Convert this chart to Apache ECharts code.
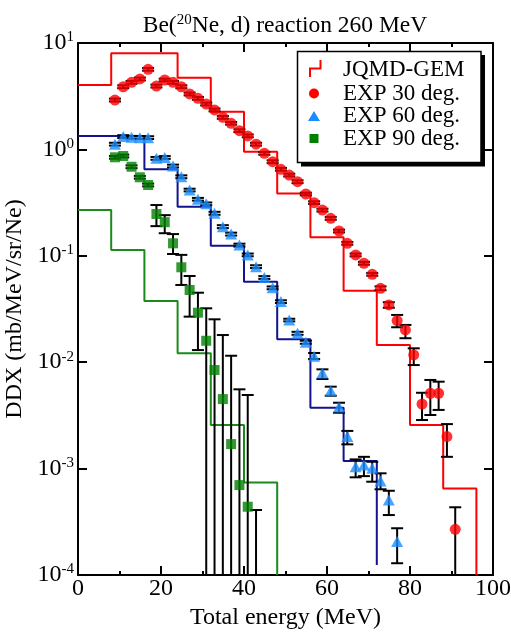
<!DOCTYPE html>
<html>
<head>
<meta charset="utf-8">
<script src="https://cdn.jsdelivr.net/npm/echarts@6/dist/echarts.min.js"></script>
<style>
  html, body { margin: 0; padding: 0; background: #fff; }
  #chart { width: 511px; height: 636px; }
</style>
</head>
<body>
<div id="chart"></div>
<script>
// ---- JQMD-GEM histograms (8 MeV bins starting at 0 MeV) ----
const binEdges = [0, 8, 16, 24, 32, 40, 48, 56, 64, 72, 80, 88, 96];
const jqmd30 = [4.03, 8.0, 8.0, 4.72, 2.26, 0.95, 0.386, 0.149, 0.047, 0.0145, 0.00257, 0.00065];
const jqmd30End = 0.0001;
const jqmd60 = [1.34, 1.34, 0.65, 0.289, 0.1245, 0.0571, 0.0164, 0.00373, 0.00118];
const jqmd60End = 0.000124;
const jqmd90 = [0.269, 0.1135, 0.0376, 0.01214, 0.00257, 0.00074];
const jqmd90End = 0.0001;

// ---- Measured DDX, 30 degrees ----
const exp30Energy = [8.9, 10.9, 12.9, 14.9, 16.9, 18.9, 20.9, 22.9, 24.9, 26.9, 28.9, 30.9, 32.9, 34.9,
  36.9, 38.9, 40.9, 42.9, 44.9, 46.9, 48.9, 50.9, 52.9, 54.9, 56.9, 58.9, 60.9, 62.9, 64.9, 66.9,
  68.9, 70.9, 72.9, 74.9, 76.9, 78.9, 80.9, 82.9, 84.9, 86.9, 88.9, 90.9];
const exp30Ddx = [2.91, 3.88, 4.27, 4.59, 5.66, 3.94, 4.49, 4.27, 3.88, 3.32, 3.02, 2.67, 2.35, 2.00,
  1.76, 1.50, 1.34, 1.12, 0.918, 0.766, 0.650, 0.574, 0.497, 0.381, 0.316, 0.269, 0.225, 0.171, 0.131, 0.102,
  0.0851, 0.0670, 0.0495, 0.0345, 0.0246, 0.0201, 0.0117, 0.00404, 0.0051, 0.0051, 0.0020, 0.000269];
const exp30Low = [2.82, 3.76, 4.14, 4.45, 5.49, 3.82, 4.36, 4.14, 3.76, 3.22, 2.93, 2.59, 2.28, 1.94,
  1.71, 1.455, 1.30, 1.086, 0.890, 0.743, 0.631, 0.557, 0.482, 0.370, 0.307, 0.261, 0.218, 0.166, 0.127, 0.0989,
  0.0825, 0.0650, 0.0475, 0.0325, 0.0213, 0.0168, 0.0094, 0.00286, 0.00319, 0.00356, 0.00129, 0];
const exp30High = [3.00, 4.00, 4.40, 4.73, 5.83, 4.06, 4.62, 4.40, 4.00, 3.42, 3.11, 2.75, 2.42, 2.06,
  1.81, 1.545, 1.38, 1.154, 0.946, 0.789, 0.670, 0.591, 0.512, 0.392, 0.325, 0.277, 0.232, 0.176, 0.135, 0.105,
  0.0877, 0.0690, 0.0516, 0.0366, 0.0278, 0.0224, 0.0135, 0.00516, 0.00681, 0.00656, 0.00262, 0.000433];

// ---- Measured DDX, 60 degrees ----
const exp60Energy = [8.9, 10.9, 12.9, 14.9, 16.9, 18.9, 20.9, 22.9, 24.9, 26.9, 28.9, 30.9, 32.9, 34.9,
  36.9, 38.9, 40.9, 42.9, 44.9, 46.9, 48.9, 50.9, 52.9, 54.9, 56.9, 58.9, 60.9, 62.9, 64.9, 66.9,
  68.9, 70.9, 72.9, 74.9, 76.9];
const exp60Ddx = [1.12, 1.32, 1.30, 1.29, 1.29, 0.824, 0.840, 0.698, 0.553, 0.415, 0.340, 0.308, 0.251, 0.188,
  0.160, 0.126, 0.102, 0.0791, 0.0625, 0.0500, 0.0371, 0.0249, 0.0187, 0.0154, 0.0114, 0.0079, 0.0054, 0.0038,
  0.0020, 0.00104, 0.00108, 0.00101, 0.000764, 0.000507, 0.000206];
const exp60Low = [1.086, 1.28, 1.261, 1.251, 1.251, 0.799, 0.815, 0.677, 0.536, 0.403, 0.330, 0.299, 0.243, 0.182,
  0.155, 0.122, 0.099, 0.0767, 0.0606, 0.0485, 0.0360, 0.0242, 0.0181, 0.0149, 0.0107, 0.00695, 0.00484, 0.00335,
  0.00169, 0.000828, 0.00085, 0.000753, 0.000639, 0.000366, 0.000129];
const exp60High = [1.154, 1.36, 1.339, 1.329, 1.329, 0.849, 0.865, 0.719, 0.570, 0.427, 0.350, 0.317, 0.259, 0.194,
  0.165, 0.130, 0.105, 0.0815, 0.0644, 0.0515, 0.0382, 0.0256, 0.0193, 0.0159, 0.0122, 0.00857, 0.00589, 0.00416,
  0.00226, 0.00122, 0.00129, 0.00116, 0.000903, 0.000619, 0.000275];

// ---- Measured DDX, 90 degrees (last point lies below the plotted range) ----
const exp90Energy = [8.9, 10.9, 12.9, 14.9, 16.9, 18.9, 20.9, 22.9, 24.9, 26.9, 28.9, 30.9, 32.9, 34.9,
  36.9, 38.9, 40.9, 42.9];
const exp90Ddx = [0.843, 0.867, 0.687, 0.547, 0.463, 0.247, 0.207, 0.131, 0.078, 0.0477, 0.0292, 0.0159,
  0.00845, 0.0045, 0.0017, 0.0007, 0.000438, null];
const exp90Low = [0.818, 0.841, 0.666, 0.531, 0.449, 0.190, 0.163, 0.104, 0.0532, 0.0268, 0.0130, 0,
  0, 0, 0, 0, 0, 0];
const exp90High = [0.868, 0.893, 0.708, 0.563, 0.477, 0.300, 0.241, 0.160, 0.102, 0.0646, 0.0450, 0.0321,
  0.0253, 0.0180, 0.0115, 0.00556, 0.00492, 0.000408];

// ---- Axis settings ----
const xTicks = [0, 20, 40, 60, 80, 100];
const yMin = 1e-4, yMax = 10;

const FONT = 'Liberation Serif';
const INK = '#000';
const RED = '#ff0000';
const NAVY = '#13138c';
const GREEN_LINE = '#1a8a1a';
const SKY = '#1a8cff';
const GREEN = '#007f00';

function stepData(edges, values, endValue) {
  const pts = values.map((v, i) => [edges[i], v]);
  pts.push([edges[values.length], endValue]);
  return pts;
}
function pointData(xs, ys) {
  const out = [];
  xs.forEach((x, i) => { if (ys[i] != null) out.push([x, ys[i]]); });
  return out;
}
function barData(xs, lo, hi) {
  return xs.map((x, i) => [x, lo[i], hi[i]]);
}
function renderErrorBar(params, api) {
  const x = api.value(0);
  const lo = api.value(1);
  const hi = api.value(2);
  const clipped = !(lo > yMin);
  const pHi = api.coord([x, hi]);
  const pLo = api.coord([x, clipped ? yMin : lo]);
  const half = 6;
  const style = { stroke: '#000', lineWidth: 2, fill: null };
  const children = [
    { type: 'line', shape: { x1: pHi[0], y1: pHi[1], x2: pLo[0], y2: pLo[1] }, style },
    { type: 'line', shape: { x1: pHi[0] - half, y1: pHi[1], x2: pHi[0] + half, y2: pHi[1] }, style }
  ];
  if (!clipped) {
    children.push({ type: 'line', shape: { x1: pLo[0] - half, y1: pLo[1], x2: pLo[0] + half, y2: pLo[1] }, style });
  }
  return { type: 'group', children };
}

const chart = echarts.init(document.getElementById('chart'), null, { renderer: 'canvas' });

const axisLine = { show: true, onZero: false, lineStyle: { color: '#000', width: 2 } };
const xTickCfg = { show: true, inside: true, length: 9, lineStyle: { color: '#000', width: 2 } };
const xMinor = { show: true, splitNumber: 2, length: 4, lineStyle: { color: '#000', width: 2 } };

const legendX = 297.5, legendY = 51.5, legendW = 183.5, legendH = 111;
const legendRows = [70, 93.5, 116, 138.5];
const legendText = ['JQMD-GEM', 'EXP 30 deg.', 'EXP 60 deg.', 'EXP 90 deg.'];

chart.setOption({
  animation: false,
  backgroundColor: '#fff',
  grid: { left: 78, right: 18, top: 43, bottom: 61, containLabel: false, outerBoundsMode: 'none' },
  xAxis: [
    {
      type: 'value', min: xTicks[0], max: xTicks[xTicks.length - 1], interval: 20, position: 'bottom',
      axisLine, axisTick: xTickCfg, minorTick: xMinor, splitLine: { show: false }, minorSplitLine: { show: false },
      axisLabel: { fontFamily: FONT, fontSize: 24, color: INK, margin: 2 },
      name: 'Total energy (MeV)', nameLocation: 'middle', nameGap: 25,
      nameTextStyle: { fontFamily: FONT, fontSize: 24, color: INK }
    },
    {
      type: 'value', min: xTicks[0], max: xTicks[xTicks.length - 1], interval: 20, position: 'top',
      axisLine, axisTick: xTickCfg, minorTick: xMinor, splitLine: { show: false },
      axisLabel: { show: false }
    }
  ],
  yAxis: [
    {
      type: 'log', logBase: 10, min: yMin, max: yMax, position: 'left',
      axisLine, axisTick: { show: true, inside: true, length: 9, lineStyle: { color: '#000', width: 2 } },
      splitLine: { show: false },
      axisLabel: {
        margin: 4,
        formatter: v => '{b|10}{s|' + Math.round(Math.log10(v)) + '}',
        rich: {
          b: { fontFamily: FONT, fontSize: 24, lineHeight: 26, color: INK },
          s: { fontFamily: FONT, fontSize: 15, lineHeight: 16, verticalAlign: 'top', color: INK }
        }
      },
      name: 'DDX (mb/MeV/sr/Ne)', nameLocation: 'middle', nameRotate: 90, nameGap: 37,
      nameTextStyle: { fontFamily: FONT, fontSize: 24, color: INK }
    },
    {
      type: 'log', logBase: 10, min: yMin, max: yMax, position: 'right',
      axisLine, axisTick: { show: true, inside: true, length: 9, lineStyle: { color: '#000', width: 2 } },
      splitLine: { show: false }, axisLabel: { show: false }
    }
  ],
  series: [
    { name: 'JQMD-GEM 30', type: 'line', step: 'end', data: stepData(binEdges, jqmd30, jqmd30End),
      showSymbol: false, lineStyle: { color: RED, width: 2 }, z: 2, clip: true },
    { name: 'JQMD-GEM 60', type: 'line', step: 'end', data: stepData(binEdges, jqmd60, jqmd60End),
      showSymbol: false, lineStyle: { color: NAVY, width: 2 }, z: 2, clip: true },
    { name: 'JQMD-GEM 90', type: 'line', step: 'end', data: stepData(binEdges, jqmd90, jqmd90End),
      showSymbol: false, lineStyle: { color: GREEN_LINE, width: 2 }, z: 2, clip: true },
    { type: 'custom', renderItem: renderErrorBar, data: barData(exp30Energy, exp30Low, exp30High),
      encode: { x: 0, y: [1, 2] }, z: 3, silent: true },
    { type: 'custom', renderItem: renderErrorBar, data: barData(exp60Energy, exp60Low, exp60High),
      encode: { x: 0, y: [1, 2] }, z: 3, silent: true },
    { type: 'custom', renderItem: renderErrorBar, data: barData(exp90Energy, exp90Low, exp90High),
      encode: { x: 0, y: [1, 2] }, z: 3, silent: true },
    { name: 'EXP 30 deg.', type: 'scatter', data: pointData(exp30Energy, exp30Ddx),
      symbol: 'circle', symbolSize: 11, itemStyle: { color: RED }, z: 4 },
    { name: 'EXP 60 deg.', type: 'scatter', data: pointData(exp60Energy, exp60Ddx),
      symbol: 'triangle', symbolSize: [12, 11], itemStyle: { color: SKY }, z: 4 },
    { name: 'EXP 90 deg.', type: 'scatter', data: pointData(exp90Energy, exp90Ddx),
      symbol: 'rect', symbolSize: 10, itemStyle: { color: GREEN }, z: 4 }
  ],
  graphic: [
    {
      type: 'text', x: 285, y: 13, z: 100,
      style: {
        text: '{a|Be(}{s|20}{a|Ne, d) reaction 260 MeV}', align: 'center', verticalAlign: 'top',
        rich: {
          a: { fontFamily: FONT, fontSize: 23.5, lineHeight: 26, fill: INK },
          s: { fontFamily: FONT, fontSize: 15, lineHeight: 19, verticalAlign: 'top', fill: INK }
        }
      }
    },
    { type: 'rect', z: 100, shape: { x: legendX + 3.5, y: legendY + 3.5, width: legendW + 0.5, height: legendH + 0.5 },
      style: { fill: '#000' } },
    { type: 'rect', z: 101, shape: { x: legendX, y: legendY, width: legendW, height: legendH },
      style: { fill: '#fff', stroke: '#000', lineWidth: 1.5 } },
    { type: 'polyline', z: 102, shape: { points: [[320.5, 60], [320.5, 68.5], [310, 68.5], [310, 77]] },
      style: { stroke: RED, lineWidth: 2, fill: null } },
    { type: 'circle', z: 102, shape: { cx: 314, cy: legendRows[1], r: 5 }, style: { fill: RED } },
    { type: 'polygon', z: 102, shape: { points: [[314, legendRows[2] - 5], [320, legendRows[2] + 5], [308, legendRows[2] + 5]] },
      style: { fill: SKY } },
    { type: 'rect', z: 102, shape: { x: 309.5, y: legendRows[3] - 4.5, width: 9, height: 9 }, style: { fill: GREEN } },
    ...legendText.map((t, i) => ({
      type: 'text', z: 102, x: 343, y: legendRows[i],
      style: { text: t, fontFamily: FONT, fontSize: 23, fill: INK, align: 'left', verticalAlign: 'middle' }
    }))
  ]
});
</script>
</body>
</html>
